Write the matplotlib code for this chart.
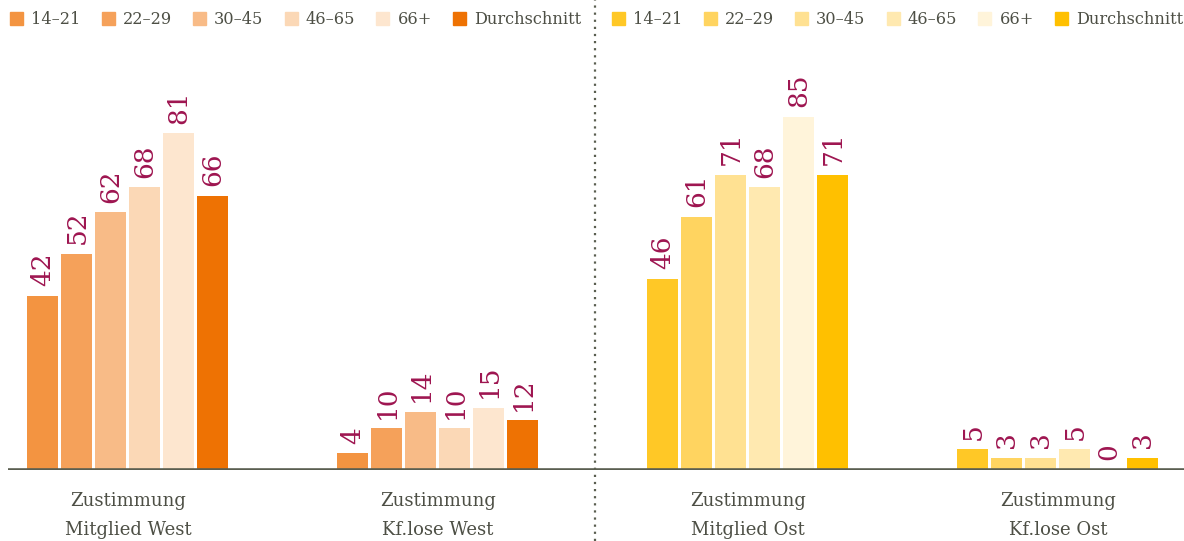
import numpy as np
import matplotlib.pyplot as plt
from matplotlib.patches import Patch

plt.rcParams['font.family'] = ['DejaVu Serif']

groups = ['Zustimmung\nMitglied West', 'Zustimmung\nKf.lose West',
          'Zustimmung\nMitglied Ost', 'Zustimmung\nKf.lose Ost']
ages = ['14–21', '22–29', '30–45', '46–65', '66+', 'Durchschnitt']

# rows = age groups, columns = the four categories
values = [
    [42, 4, 46, 5],
    [52, 10, 61, 3],
    [62, 14, 71, 3],
    [68, 10, 68, 5],
    [81, 15, 85, 0],
    [66, 12, 71, 3],
]

orange = ['#F39441', '#F5A15A', '#F8BB87', '#FBD8B6', '#FDE6CF', '#EE7203']
yellow = ['#FFC826', '#FFD460', '#FFE192', '#FFE9B0', '#FFF4DA', '#FFC000']

label_col = '#9E1550'
text_col = '#4D4F45'

fig = plt.figure(figsize=(11.84, 5.41), dpi=100)
ax = fig.add_axes([8 / 1184, 71 / 541, 1176 / 1184, 430 / 541])

x = np.arange(len(groups))
step = 0.1097
width = 0.1
for i, row in enumerate(values):
    pos = x + (i - 2.5) * step
    cols = [orange[i], orange[i], yellow[i], yellow[i]]
    bars = ax.bar(pos, row, width=width, color=cols, linewidth=0, zorder=2)
    for b, v in zip(bars, row):
        ax.text(b.get_x() + b.get_width() / 2, v + 2.3, str(v),
                rotation=90, ha='center', va='bottom',
                fontsize=19, color=label_col)

ax.set_xlim(-0.387, 3.407)
ax.set_ylim(0, 103.5)
ax.axhline(0, color='#5A5E50', lw=2.6, zorder=3)
for s in ax.spines.values():
    s.set_visible(False)
ax.set_yticks([])
ax.set_xticks(x)
ax.set_xticklabels(groups, fontsize=13, color=text_col, linespacing=1.75)
ax.tick_params(axis='x', length=0, pad=16)

# dotted separator between West and Ost
fig.add_artist(plt.Line2D([595 / 1184, 595 / 1184], [0, 1],
                          transform=fig.transFigure, color='#5A5E50',
                          lw=1.6, linestyle=(0, (1, 2.2))))

h_left = [Patch(color=c, label=a) for c, a in zip(orange, ages)]
h_right = [Patch(color=c, label=a) for c, a in zip(yellow, ages)]
leg_kw = dict(ncol=6, frameon=False, fontsize=11.6, handlelength=0.82,
              handleheight=0.82, handletextpad=0.5, columnspacing=1.3,
              borderaxespad=0, borderpad=0, labelcolor=text_col)
fig.legend(handles=h_left, loc='upper left',
           bbox_to_anchor=(10 / 1184, 1 - 11 / 541), **leg_kw)
fig.legend(handles=h_right, loc='upper left',
           bbox_to_anchor=(612 / 1184, 1 - 11 / 541), **leg_kw)

fig.savefig('out.png', dpi=100)
